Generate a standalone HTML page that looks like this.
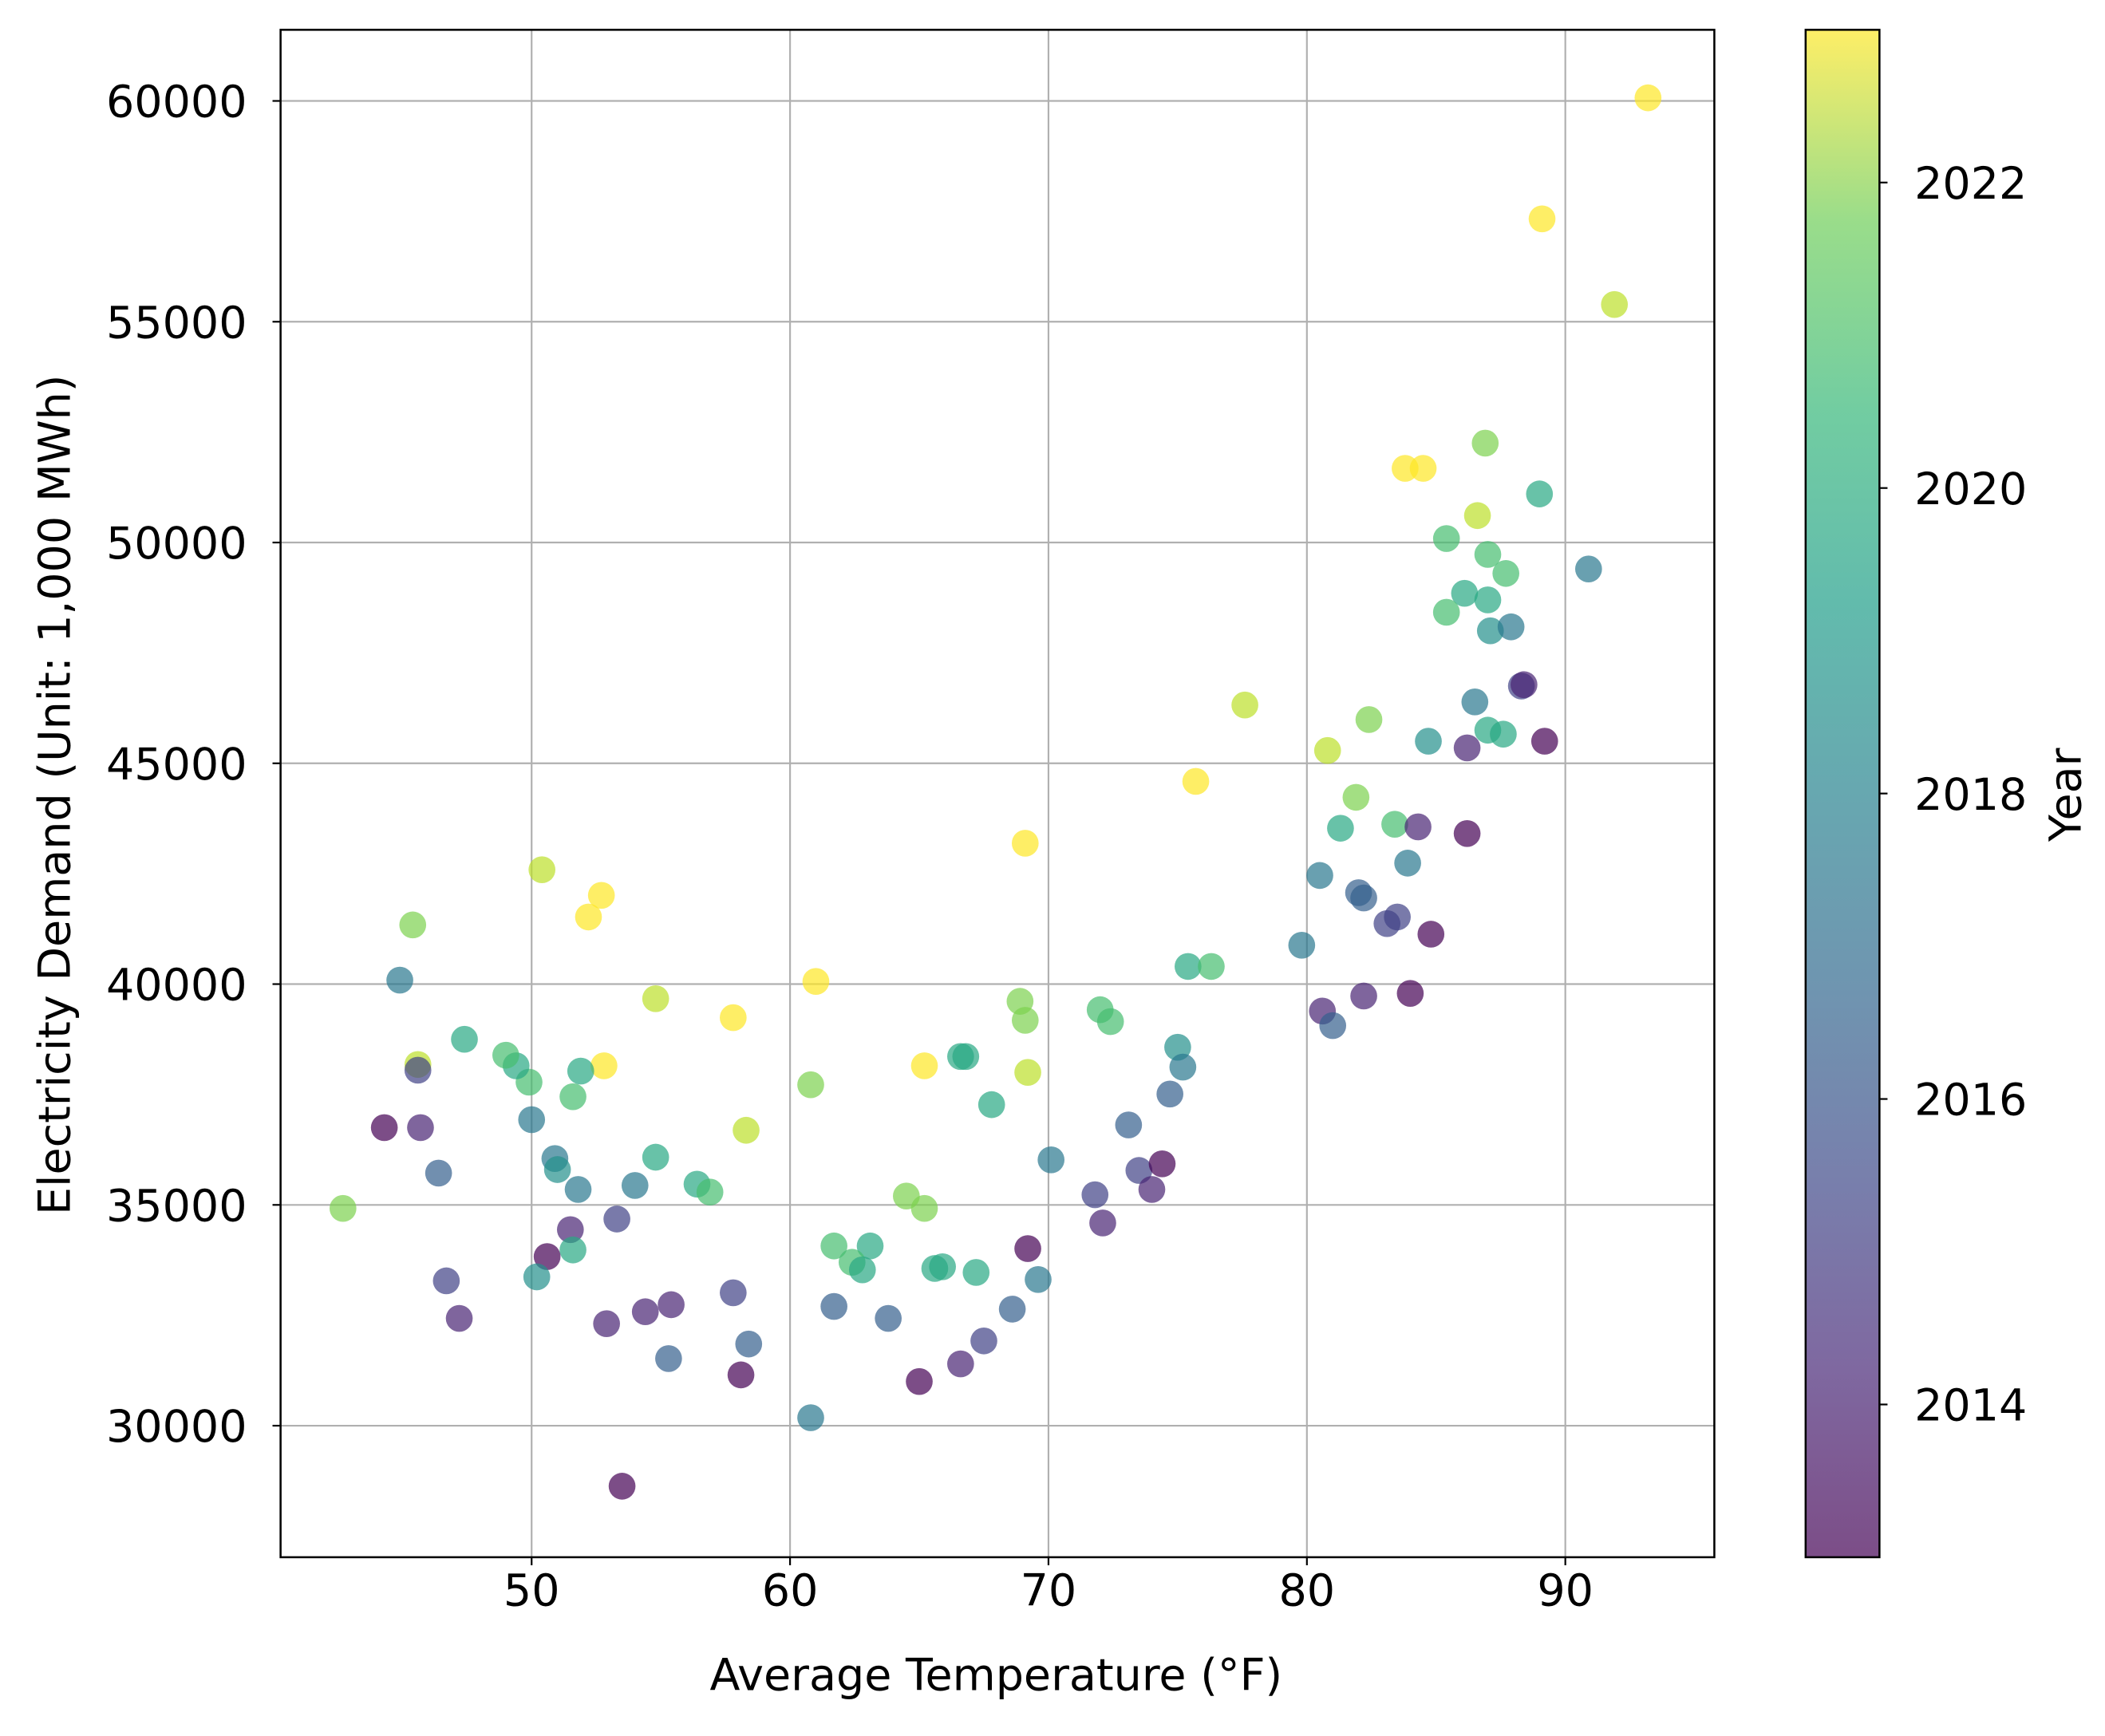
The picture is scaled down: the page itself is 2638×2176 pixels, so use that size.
<!DOCTYPE html>
<html><head><meta charset="utf-8"><style>
html,body{margin:0;padding:0;background:#fff;}
svg{display:block;font-family:"DejaVu Sans","Liberation Sans",sans-serif;}
</style></head><body>
<svg id="chart" width="2638" height="2176" viewBox="0 0 1568 1293" xmlns="http://www.w3.org/2000/svg">
<defs>
<linearGradient id="vir" x1="0" y1="1" x2="0" y2="0">
<stop offset="0" stop-color="#440154"/><stop offset="0.125" stop-color="#482878"/>
<stop offset="0.25" stop-color="#3e4989"/><stop offset="0.375" stop-color="#31688e"/>
<stop offset="0.5" stop-color="#26828e"/><stop offset="0.625" stop-color="#1f9e89"/>
<stop offset="0.75" stop-color="#35b779"/><stop offset="0.875" stop-color="#6ece58"/>
<stop offset="1" stop-color="#fde725"/>
</linearGradient>
</defs>
<g id="grid"></g>
<g id="points"></g>
<rect x="209" y="22" width="1068" height="1138" fill="none" stroke="#000" stroke-width="1.5"/>
<g id="xticks"></g>
<g id="yticks"></g>
<text x="742" y="1259" font-size="33" text-anchor="middle">Average Temperature (°F)</text>
<text transform="translate(52,592) rotate(-90)" font-size="33" text-anchor="middle">Electricity Demand (Unit: 1,000 MWh)</text>
<g>
<rect x="1345" y="22" width="55" height="1138" fill="url(#vir)" opacity="0.7"/>
<rect x="1345" y="22" width="55" height="1138" fill="none" stroke="#000" stroke-width="1.5"/>
<g id="cticks"></g>
<text transform="translate(1550,592) rotate(-90)" font-size="33" text-anchor="middle">Year</text>
</g>
</svg>
<script>
const temps = [93.2,89.1,91.9,83.8,84.5,86.9,89.0,86.6,85.4,90.9,87.0,87.7,86.1,87.0,85.4,87.1,87.9,88.3,88.4,86.5,87.0,87.6,84.7,86.2,89.2,77.6,80.8,82.4,75.7,81.9,81.3,83.4,84.3,86.2,80.5,83.9,82.0,82.2,83.1,83.5,84.8,79.8,75.4,76.3,80.6,81.0,82.2,84.0,75.0,75.2,74.7,73.1,73.5,74.4,74.0,71.8,72.1,72.0,72.4,70.1,69.1,68.9,69.1,69.2,67.8,66.6,66.8,69.6,69.2,68.6,67.5,66.6,65.0,65.2,64.5,65.2,65.6,65.9,67.2,63.1,61.7,62.4,62.8,63.8,61.7,60.8,60.8,61.0,58.3,57.8,57.8,58.4,58.1,56.4,56.9,54.8,54.8,54.0,55.3,55.4,54.4,52.9,53.3,53.5,52.8,52.7,52.2,50.4,51.9,51.6,51.8,50.9,51.0,51.5,51.6,50.6,50.2,50.0,49.9,49.4,49.0,47.4,46.4,46.7,47.2,45.7,44.3,45.6,45.6,45.4,44.9,42.7];
const demand = [60070,57330,55390,51680,51680,52250,51100,50610,50090,49400,49730,49300,48850,48700,48420,48000,48090,46750,46780,46390,45750,45660,45500,45350,45500,46320,45290,45990,44590,44230,43530,43620,43560,43410,42460,42740,42070,41950,41370,41520,41130,40880,40400,40400,39390,39060,39730,39790,38570,38120,37510,36810,35780,35930,35350,35230,34590,39420,39150,36020,39180,39610,43190,38000,37270,38360,38360,33310,34010,32640,31920,31400,31000,38150,35200,34920,33560,33600,33470,34070,34070,33700,33530,32430,32700,30180,37720,40060,36690,39240,33010,31850,31150,35470,35290,36080,39670,35440,31520,32740,32580,32310,34680,28630,38150,42010,41520,42590,38030,37450,35350,36050,35800,34440,33980,33830,33370,36930,37780,38150,38390,38750,35720,33280,32430,36750,36750,38180,38050,41340,40090,34920];
const years = [2023,2023,2022,2023,2023,2021,2019,2022,2020,2017,2020,2020,2019,2019,2020,2018,2017,2015,2014,2017,2019,2019,2018,2014,2013,2022,2022,2021,2023,2021,2019,2020,2014,2013,2017,2017,2016,2016,2015,2015,2013,2017,2019,2020,2014,2016,2014,2013,2018,2017,2016,2016,2015,2013,2014,2015,2014,2020,2020,2017,2021,2021,2023,2022,2019,2019,2019,2017,2013,2016,2015,2014,2013,2023,2021,2021,2019,2019,2019,2019,2020,2020,2019,2016,2016,2017,2021,2023,2022,2023,2015,2016,2013,2019,2020,2019,2022,2017,2016,2014,2014,2014,2015,2013,2023,2023,2023,2022,2019,2020,2017,2017,2018,2014,2019,2013,2018,2017,2020,2019,2020,2019,2016,2015,2014,2014,2013,2022,2015,2021,2017,2021];
const xTicks = [50,60,70,80,90];
const yTicks = [30000,35000,40000,45000,50000,55000,60000];
const cTicks = [2014,2016,2018,2020,2022];

const NS = "http://www.w3.org/2000/svg";
const X0=209,X1=1277,Y0=22,Y1=1160;
const xs = v => 396 + (v-50)*19.25;
const ys = v => 1062 - (v-30000)*(987/30000);
const cs = v => 1160 - (v-2013)*(1138/10);
const vir = [[68,1,84],[72,40,120],[62,73,137],[49,104,142],[38,130,142],[31,158,137],[53,183,121],[110,206,88],[181,222,43],[253,231,37]];
function color(y){let t=(y-2013)/10;t=Math.max(0,Math.min(1,t))*(vir.length-1);const i=Math.min(vir.length-2,Math.floor(t)),f=t-i;
 const c=vir[i].map((a,k)=>Math.round(a+(vir[i+1][k]-a)*f));return `rgb(${c[0]},${c[1]},${c[2]})`;}
function mk(tag,attrs,parent){const e=document.createElementNS(NS,tag);for(const k in attrs)e.setAttribute(k,attrs[k]);parent.appendChild(e);return e;}

const grid=document.getElementById('grid'), xt=document.getElementById('xticks'), yt=document.getElementById('yticks');
xTicks.forEach(v=>{const x=xs(v);
 const l=mk('line',{x1:x,x2:x,y1:Y0,y2:Y1,stroke:'#b0b0b0','stroke-width':1.3},grid);
 
 
 mk('line',{x1:x,x2:x,y1:Y1,y2:Y1+6,stroke:'#000','stroke-width':1.3},xt);
 const t=mk('text',{x:x,y:Y1+36,'font-size':33,'text-anchor':'middle'},xt);t.textContent=v;
 
 
});
yTicks.forEach(v=>{const y=ys(v);
 const l=mk('line',{x1:X0,x2:X1,y1:y,y2:y,stroke:'#b0b0b0','stroke-width':1.3},grid);
 
 
 mk('line',{x1:X0-6,x2:X0,y1:y,y2:y,stroke:'#000','stroke-width':1.3},yt);
 const t=mk('text',{x:X0-25,y:y+12,'font-size':33,'text-anchor':'end'},yt);t.textContent=v;
 
 
});
const ct=document.getElementById('cticks');
cTicks.forEach(v=>{const y=cs(v);
 mk('line',{x1:1400,x2:1406,y1:y,y2:y,stroke:'#000','stroke-width':1.3},ct);
 const t=mk('text',{x:1426,y:y+12,'font-size':33},ct);t.textContent=v;
 
 
});
const pts=document.getElementById('points');
temps.forEach((tv,i)=>{
 const c=mk('circle',{cx:xs(tv),cy:ys(demand[i]),r:10,fill:color(years[i]),'fill-opacity':0.7},pts);
 
 
});
</script>
</body></html>
